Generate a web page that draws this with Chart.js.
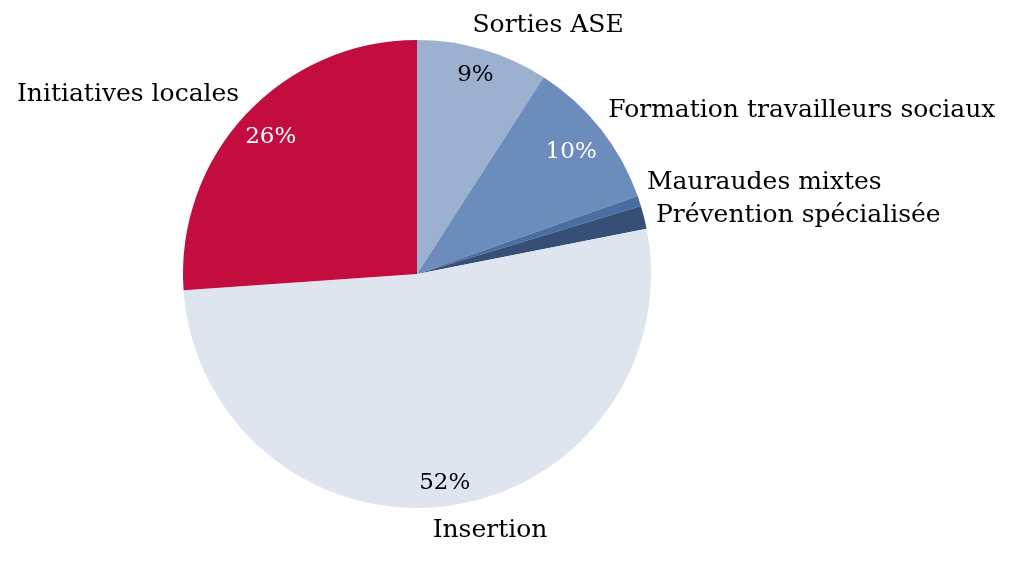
<!DOCTYPE html>
<html>
<head>
<meta charset="utf-8">
<script src="https://cdn.jsdelivr.net/npm/chart.js@4.4.1/dist/chart.umd.min.js"></script>
<style>
  html, body { margin: 0; padding: 0; background: #fff; }
  #wrap { width: 1019px; height: 565px; }
</style>
</head>
<body>
<div id="wrap"><canvas id="pieChart" width="1019" height="565"></canvas></div>
<script>
// data, clockwise from 12 o'clock
const categories = ['Sorties ASE', 'Formation travailleurs sociaux', 'Mauraudes mixtes', 'Prévention spécialisée', 'Insertion', 'Initiatives locales'];
const shares = [9.1, 10.5, 0.7, 1.6, 52.0, 26.1];
const pctLabels = ['9%', '10%', '', '', '52%', '26%'];

const sliceColors = ['#9cb0cf', '#6c8cbb', '#4a6da3', '#354f76', '#dfe5ef', '#c30d3e'];
const pctColors = ['#000', '#fff', '#000', '#000', '#000', '#fff'];

// name label placement: offset from pie centre in units of radius, plus alignment
const namePos = [
  { x: 0.56, y: -1.06, align: 'center' },
  { x: 0.817, y: -0.70, align: 'left' },
  { x: 0.983, y: -0.389, align: 'left' },
  { x: 1.021, y: -0.248, align: 'left' },
  { x: 0.312, y: 1.098, align: 'center' },
  { x: -0.76, y: -0.765, align: 'right' }
];
const pctRadius = [0.885, 0.84, 0.9, 0.9, 0.9, 0.855];

const FONT = '"DejaVu Serif", "Liberation Serif", serif';

const labelPlugin = {
  id: 'pieLabels',
  afterDatasetsDraw(chart) {
    const ctx = chart.ctx;
    const arcs = chart.getDatasetMeta(0).data;
    ctx.save();
    ctx.textBaseline = 'middle';
    arcs.forEach((arc, i) => {
      const { x, y, startAngle, endAngle, outerRadius } = arc.getProps(['x', 'y', 'startAngle', 'endAngle', 'outerRadius'], true);
      const mid = (startAngle + endAngle) / 2;
      if (pctLabels[i]) {
        ctx.font = '23px ' + FONT;
        ctx.fillStyle = pctColors[i];
        ctx.textAlign = 'center';
        ctx.fillText(pctLabels[i], x + Math.cos(mid) * outerRadius * pctRadius[i], y + Math.sin(mid) * outerRadius * pctRadius[i]);
      }
      const p = namePos[i];
      ctx.font = '25px ' + FONT;
      ctx.fillStyle = '#000';
      ctx.textAlign = p.align;
      ctx.fillText(categories[i], x + p.x * outerRadius, y + p.y * outerRadius);
    });
    ctx.restore();
  }
};

new Chart(document.getElementById('pieChart'), {
  type: 'pie',
  data: {
    labels: categories,
    datasets: [{
      data: shares,
      backgroundColor: sliceColors,
      borderWidth: 0
    }]
  },
  options: {
    responsive: false,
    animation: false,
    layout: { padding: { left: 183, right: 368, top: 40, bottom: 57 } },
    plugins: { legend: { display: false }, tooltip: { enabled: false } }
  },
  plugins: [labelPlugin]
});
</script>
</body>
</html>
